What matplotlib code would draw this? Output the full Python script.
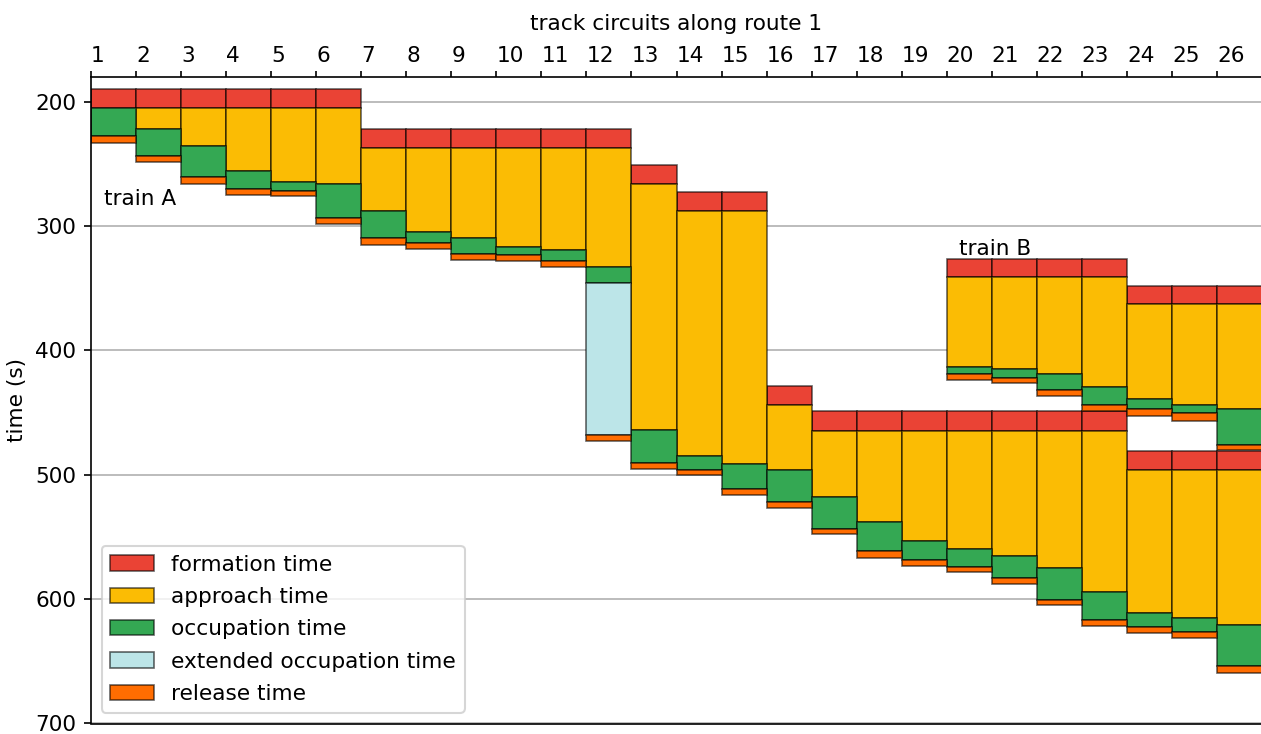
import numpy as np
import matplotlib
matplotlib.use("Agg")
import matplotlib.pyplot as plt
from matplotlib.patches import Patch

plt.rcParams['font.size'] = 10.4

# blocking time data (seconds)
blocks_A = list(range(1, 27))
form_A = [190, 190, 190, 190, 190, 190, 222, 222, 222, 222, 222, 222, 251,
          273, 273, 429, 449, 449, 449, 449, 449, 449, 449, 481, 481, 481]
appr_A = [205, 205, 205, 205, 205, 205, 237, 237, 237, 237, 237, 237, 266.5,
          288, 288, 444, 464.5, 464.5, 464.5, 464.5, 464.5, 464.5, 464.5, 496, 496, 496]
occ_A = [205, 222, 236, 256, 265, 266, 288, 305, 310, 317, 319, 333, 464,
         485, 491, 496, 518, 538, 553, 560, 565.5, 575, 594.5, 611, 615.5, 621]
occ_end_A = [228, 243.5, 260.5, 270.5, 271.5, 293.5, 310, 313.5, 322.5, 323.5, 328.5, 345.5, 490.5,
             496, 511.5, 522, 543.5, 561.5, 568.5, 574.5, 583, 600.5, 617, 622.5, 626.5, 654]
rel_A = [228, 243.5, 260.5, 270.5, 271.5, 293.5, 310, 313.5, 322.5, 323.5, 328.5, 468, 490.5,
         496, 511.5, 522, 543.5, 561.5, 568.5, 574.5, 583, 600.5, 617, 622.5, 626.5, 654]
end_A = [233, 248.5, 266, 275.5, 276, 298.5, 315, 318.5, 327.5, 328.5, 333, 473, 495,
         500.5, 516, 527, 548, 567, 573, 578.5, 587.5, 605, 622, 627, 631, 659]

blocks_B = [20, 21, 22, 23, 24, 25, 26]
form_B = [326.5, 326.5, 326.5, 326.5, 348, 348, 348]
appr_B = [341, 341, 341, 341, 362.5, 362.5, 362.5]
occ_B = [413.5, 415, 419, 429.5, 439, 444, 447]
occ_end_B = [419, 422, 432, 444, 447.5, 450.5, 476]
rel_B = [419, 422, 432, 444, 447.5, 450.5, 476]
end_B = [424, 426.5, 437, 448.5, 452.5, 456.5, 480.5]

labels = ['formation time', 'approach time', 'occupation time',
          'extended occupation time', 'release time']
colors = ['#EA4335', '#FBBC04', '#34A853', '#BCE5E8', '#FF6D01']
edge = (0, 0, 0, 0.6)

fig = plt.figure(figsize=(1261 / 150, 734 / 150), dpi=150)
ax = fig.add_axes([91 / 1261, (734 - 723.5) / 734, (1262 - 91) / 1261, (723.5 - 76.7) / 734])


def draw_train(blocks, form, appr, occ, occ_end, rel, end):
    x = np.array(blocks)
    bounds = [np.array(v, dtype=float) for v in (form, appr, occ, occ_end, rel, end)]
    for k in range(5):
        h = bounds[k + 1] - bounds[k]
        m = h > 0
        ax.bar(x[m], h[m], bottom=bounds[k][m], width=1, align='edge',
               color=colors[k], edgecolor=edge, linewidth=0.8, zorder=2)


draw_train(blocks_A, form_A, appr_A, occ_A, occ_end_A, rel_A, end_A)
draw_train(blocks_B, form_B, appr_B, occ_B, occ_end_B, rel_B, end_B)

ax.text(1.29, 278, 'train A', va='center', ha='left')
ax.text(20.28, 318.5, 'train B', va='center', ha='left')

ax.set_xlim(1, 27)
ax.set_ylim(700, 180)
ax.set_xticks(blocks_A)
ax.set_xticklabels([str(b) for b in blocks_A], ha='left')
ax.xaxis.tick_top()
ax.xaxis.set_label_position('top')
ax.tick_params(axis='x', length=3.0, pad=2.2)
ax.set_xlabel('track circuits along route 1', labelpad=7.5)
ax.set_ylabel('time (s)')
ax.set_yticks([200, 300, 400, 500, 600, 700])
ax.yaxis.grid(True, color='#b0b0b0', linewidth=0.8)
ax.set_axisbelow(True)

handles = [Patch(facecolor=c, edgecolor=edge, linewidth=0.8) for c in colors]
ax.legend(handles, labels, loc='lower left', labelspacing=0.57)

fig.savefig('out.png', dpi=150)
